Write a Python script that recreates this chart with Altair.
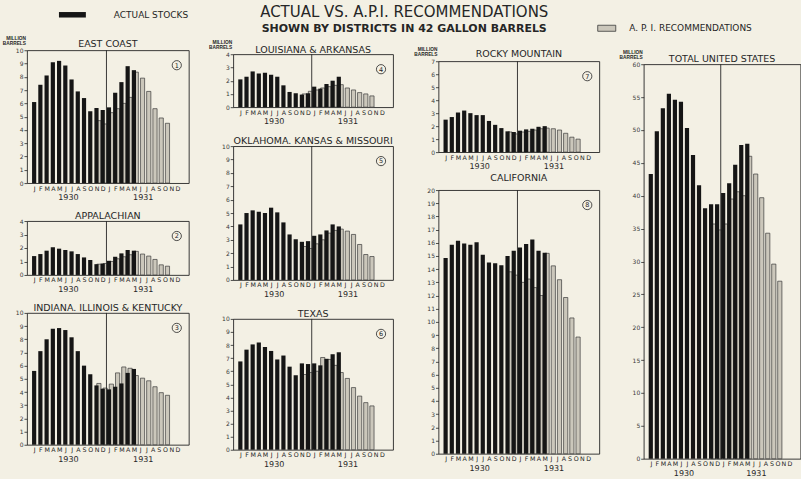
import altair as alt
import pandas as pd

# ---------------- data (million barrels) ----------------
MONTHS = ["J", "F", "M", "A", "M", "J", "J", "A", "S", "O", "N", "D"]
YEARS = ["1930", "1931"]
ACTUAL_LABEL = "ACTUAL  STOCKS"
API_LABEL = "A. P. I.  RECOMMENDATIONS"
API_FIRST_MONTH = 10  # recommendations start Nov 1930 (index from Jan 1930)

# actual stocks, Jan 1930 .. May 1931
ec_actual = [6.1, 7.4, 8.1, 9.1, 9.2, 8.85, 7.8, 6.9, 6.4, 5.4, 5.65, 5.5, 5.7, 6.8, 7.6, 8.8, 8.5]
app_actual = [1.4, 1.55, 1.8, 2.05, 1.95, 1.85, 1.75, 1.55, 1.3, 1.1, 0.8, 0.85, 1.05, 1.35, 1.6, 1.85, 1.8]
ind_actual = [5.6, 7.1, 8.0, 8.8, 8.85, 8.7, 8.15, 7.1, 6.0, 5.35, 4.5, 4.25, 4.2, 4.4, 4.65, 5.45, 5.75]
la_actual = [2.1, 2.3, 2.7, 2.55, 2.6, 2.45, 2.3, 1.65, 1.15, 1.05, 0.95, 1.05, 1.55, 1.4, 1.75, 2.0, 2.3]
ok_actual = [4.15, 5.0, 5.2, 5.1, 5.0, 5.4, 5.05, 4.3, 3.4, 3.05, 2.85, 2.9, 3.3, 3.4, 3.7, 4.15, 4.0]
tx_actual = [6.75, 7.65, 8.05, 8.2, 7.85, 7.55, 6.9, 7.2, 6.35, 5.7, 6.6, 6.55, 6.6, 6.45, 6.95, 7.3, 7.45]
rm_actual = [2.5, 2.7, 3.05, 3.2, 3.0, 2.85, 2.85, 2.4, 2.1, 1.85, 1.6, 1.55, 1.65, 1.75, 1.8, 1.95, 2.0]
ca_actual = [14.85, 15.85, 16.15, 15.95, 15.85, 16.05, 15.1, 14.5, 14.45, 14.3, 15.0, 15.4, 15.65, 15.9, 16.25, 15.4, 15.25]
us_actual = [43.3, 49.8, 53.3, 55.5, 54.6, 54.3, 50.3, 46.2, 41.6, 38.1, 38.7, 38.7, 40.4, 41.9, 44.7, 47.7, 47.9]

# A.P.I. recommendations, Nov 1930 .. Oct 1931
ec_api = [4.7, 4.45, 5.3, 5.6, 6.0, 6.45, 8.35, 7.9, 6.9, 5.6, 4.9, 4.5]
app_api = [0.8, 0.85, 1.0, 1.2, 1.35, 1.5, 1.75, 1.55, 1.4, 1.15, 0.75, 0.65]
ind_api = [4.65, 4.3, 4.6, 5.45, 5.9, 5.8, 5.25, 5.05, 4.85, 4.4, 3.95, 3.75]
la_api = [1.0, 1.2, 1.3, 1.45, 1.55, 1.65, 1.7, 1.45, 1.3, 1.1, 1.0, 0.85]
ok_api = [2.5, 2.35, 2.7, 3.0, 3.5, 3.7, 3.8, 3.65, 3.4, 2.65, 1.9, 1.75]
tx_api = [5.75, 5.9, 6.0, 7.05, 6.9, 6.45, 5.9, 5.45, 4.75, 4.1, 3.6, 3.35]
rm_api = [1.55, 1.4, 1.55, 1.6, 1.7, 1.8, 1.85, 1.8, 1.7, 1.45, 1.15, 1.0]
ca_api = [13.8, 13.55, 13.0, 13.25, 12.6, 12.0, 15.2, 14.25, 13.2, 11.85, 10.3, 8.85]
us_api = [35.7, 34.8, 35.7, 39.5, 40.6, 40.0, 46.0, 43.3, 39.7, 34.3, 29.6, 27.0]

# ---------------- style ----------------
PAPER = "#f3f0e4"
INK = "#262626"
BLACK = "#151515"
HATCH_FILL = "#cbc7bb"
HATCH_LINE = "#3a3a3a"
FONT = "DejaVu Sans"

BAR_W = 4.2
API_SHIFT = 2.4
X_DOMAIN = [-0.35, 24.0]
YEAR_EDGE = 11.6
YEAR_MID = [5.5, 17.5]
LEFT_EXT = 25

month_expr = "[" + ",".join("'%s'" % m for m in MONTHS) + "][datum.value % 12]"

act_legend = alt.Legend(
    title=None, orient="none", legendX=40, legendY=4, padding=0,
    symbolType="M-2.45,-0.5H2.45V0.5H-2.45Z", symbolSize=121, symbolStrokeWidth=0,
    labelFont=FONT, labelFontSize=9, labelColor=INK, labelOffset=36,
)
api_legend = alt.Legend(
    title=None, orient="none", legendX=574.5, legendY=17, padding=0,
    symbolType="M-1.64,-0.55H1.64V0.55H-1.64Z", symbolSize=121,
    symbolFillColor=HATCH_FILL, symbolStrokeWidth=0.8,
    labelFont=FONT, labelFontSize=9, labelColor=INK, labelOffset=16.5,
)


def spacer(w, h):
    return alt.Chart(pd.DataFrame({"s": [0]})).mark_point(opacity=0, size=1).encode(
        x=alt.value(w / 2), y=alt.value(h / 2)
    ).properties(width=w, height=h, view=alt.ViewBackground(strokeOpacity=0))


def panel(title, num, actual, api, ymax, ystep, w, h, title_dy=-5.5, million=False):
    act = pd.DataFrame({"m": list(range(len(actual))), "v": actual, "k": ACTUAL_LABEL})
    rec = pd.DataFrame({"m": [API_FIRST_MONTH + i for i in range(len(api))], "v": api, "k": API_LABEL})

    x = alt.X(
        "m:Q",
        scale=alt.Scale(domain=X_DOMAIN, nice=False, zero=False),
        axis=alt.Axis(values=list(range(24)), labelExpr=month_expr, ticks=False, domain=False,
                      grid=False, title=None, labelFont=FONT, labelFontSize=6.3, labelColor=INK,
                      labelPadding=2, labelOverlap=False, labelFlush=False, labelAngle=0),
    )
    y = alt.Y(
        "v:Q",
        scale=alt.Scale(domain=[0, ymax], nice=False, zero=True),
        axis=alt.Axis(values=list(range(0, ymax + 1, ystep)), ticks=True, tickSize=3,
                      tickColor=INK, tickWidth=0.8, domain=False, grid=False, title=None,
                      labelFont=FONT, labelFontSize=6, labelColor="#3a3a3a", labelPadding=1,
                      labelOverlap=False, labelFlush=False),
    )

    layers = [
        alt.Chart(rec).mark_bar(width=BAR_W, xOffset=API_SHIFT, fill=HATCH_FILL, strokeWidth=0.7).encode(
            x=x, y=y,
            stroke=alt.Stroke("k:N", scale=alt.Scale(domain=[API_LABEL], range=[HATCH_LINE]), legend=api_legend),
        ),
        alt.Chart(act).mark_bar(width=BAR_W).encode(
            x=x, y=y,
            fill=alt.Fill("k:N", scale=alt.Scale(domain=[ACTUAL_LABEL], range=[BLACK]), legend=act_legend),
        ),
        alt.Chart(pd.DataFrame({"m": [YEAR_EDGE]})).mark_rule(color=INK, strokeWidth=0.9).encode(x=x),
        alt.Chart(pd.DataFrame({"m": YEAR_MID, "yr": YEARS})).mark_text(
            font=FONT, fontSize=8, color=INK, baseline="middle"
        ).encode(x=x, y=alt.value(h + 15), text="yr:N"),
        alt.Chart(pd.DataFrame({"t": [title]})).mark_text(
            font=FONT, fontSize=9.5, color=INK, baseline="middle"
        ).encode(x=alt.value(w / 2), y=alt.value(title_dy), text="t:N"),
        # invisible guide fixing the panel's horizontal extent for the column layout
        alt.Chart(pd.DataFrame({"a": [0]})).mark_rule(color=PAPER, strokeOpacity=0, strokeWidth=1).encode(
            x=alt.value(-LEFT_EXT), x2=alt.value(w), y=alt.value(0)),
    ]
    if num is not None:
        nd = pd.DataFrame({"n": [str(num)]})
        layers.append(
            alt.Chart(nd).mark_point(shape="circle", size=85, filled=False, color=INK,
                                     strokeWidth=0.8, opacity=1).encode(x=alt.value(w - 12), y=alt.value(15))
        )
        layers.append(
            alt.Chart(nd).mark_text(font=FONT, fontSize=6.5, color=INK, baseline="middle").encode(
                x=alt.value(w - 12), y=alt.value(15.3), text="n:N")
        )
    if million:
        layers.append(
            alt.Chart(pd.DataFrame({"u": [0]})).mark_text(
                font="Liberation Sans", fontSize=4.8, fontWeight="bold", color=INK,
                align="right", baseline="top", lineHeight=5,
            ).encode(x=alt.value(-1), y=alt.value(-14.5), text=alt.value(["MILLION", "BARRELS"]))
        )
    return alt.layer(*layers).properties(width=w, height=h)


ec = panel("EAST  COAST", 1, ec_actual, ec_api, 10, 1, 162, 133, -6, million=True)
app = panel("APPALACHIAN", 2, app_actual, app_api, 4, 1, 162, 54, -5)
ind = panel("INDIANA.  ILLINOIS  &  KENTUCKY", 3, ind_actual, ind_api, 10, 1, 162, 132, -5)

la = panel("LOUISIANA  &  ARKANSAS", 4, la_actual, la_api, 4, 1, 160, 53, -4.5, million=True)
okl = panel("OKLAHOMA.  KANSAS & MISSOURI", 5, ok_actual, ok_api, 10, 1, 160, 134, -5)
tx = panel("TEXAS", 6, tx_actual, tx_api, 10, 1, 160, 131, -5)

rm = panel("ROCKY  MOUNTAIN", 7, rm_actual, rm_api, 7, 1, 161, 91, -7, million=True)
ca = panel("CALIFORNIA", 8, ca_actual, ca_api, 20, 1, 161, 264, -12)

us = panel("TOTAL  UNITED  STATES", None, us_actual, us_api, 60, 5, 157, 395, -5, million=True)

col1 = alt.vconcat(spacer(162, 7), ec, app, ind, spacing=38, bounds="flush")
col2 = alt.vconcat(spacer(160, 10), la, okl, tx, spacing=39, bounds="flush")
col3 = alt.vconcat(spacer(161, 18), rm, ca, spacing=38, bounds="flush")
col4 = alt.vconcat(spacer(157, 21), us, spacing=38, bounds="flush")

chart = (
    alt.hconcat(col1, col2, col3, col4, spacing=17.5)
    .properties(
        title=alt.TitleParams(
            text="ACTUAL  VS.  A.P.I.  RECOMMENDATIONS",
            subtitle="SHOWN   BY   DISTRICTS   IN   42   GALLON   BARRELS",
            anchor="middle", frame="bounds", dx=3, offset=-28.5,
            font=FONT, fontSize=15, fontWeight="normal", color=INK,
            subtitleFont=FONT, subtitleFontSize=11, subtitleFontWeight="bold",
            subtitleColor=INK, subtitlePadding=3,
        ),
        padding={"left": 1, "top": 4, "right": 0, "bottom": 0},
        background=PAPER,
    )
    .configure_view(stroke=INK, strokeWidth=0.9)
)

chart.save("out.html", embed_options={"renderer": "svg", "actions": False})
